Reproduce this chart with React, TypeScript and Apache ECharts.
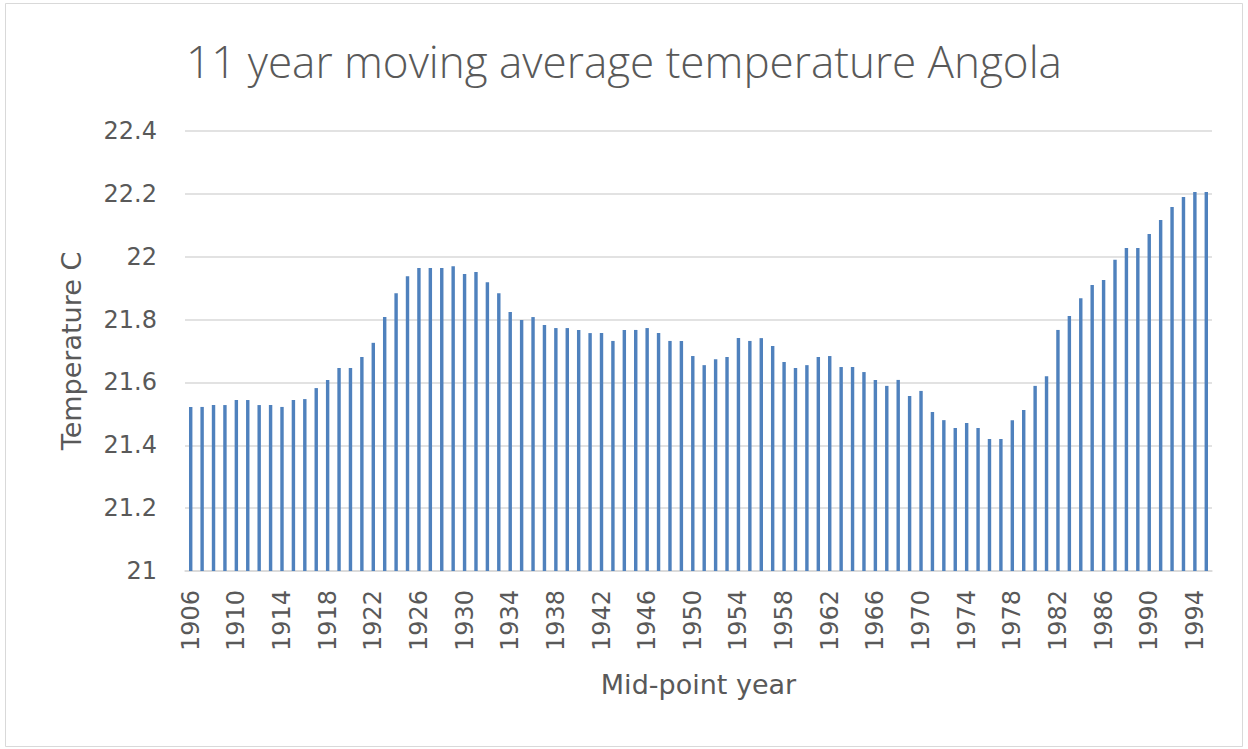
import React, { useEffect, useRef } from "react";
import * as echarts from "echarts";

const years: string[] = [
  "1906", "1907", "1908", "1909", "1910", "1911", "1912", "1913", "1914", "1915",
  "1916", "1917", "1918", "1919", "1920", "1921", "1922", "1923", "1924", "1925",
  "1926", "1927", "1928", "1929", "1930", "1931", "1932", "1933", "1934", "1935",
  "1936", "1937", "1938", "1939", "1940", "1941", "1942", "1943", "1944", "1945",
  "1946", "1947", "1948", "1949", "1950", "1951", "1952", "1953", "1954", "1955",
  "1956", "1957", "1958", "1959", "1960", "1961", "1962", "1963", "1964", "1965",
  "1966", "1967", "1968", "1969", "1970", "1971", "1972", "1973", "1974", "1975",
  "1976", "1977", "1978", "1979", "1980", "1981", "1982", "1983", "1984", "1985",
  "1986", "1987", "1988", "1989", "1990", "1991", "1992", "1993", "1994", "1995",
];

const temperatures: number[] = [
  21.522, 21.522, 21.528, 21.528, 21.544, 21.544, 21.528, 21.528, 21.522, 21.544,
  21.547, 21.582, 21.608, 21.646, 21.646, 21.681, 21.726, 21.808, 21.884, 21.938,
  21.964, 21.964, 21.964, 21.970, 21.945, 21.951, 21.919, 21.884, 21.824, 21.799,
  21.808, 21.783, 21.773, 21.773, 21.767, 21.757, 21.757, 21.732, 21.767, 21.767,
  21.773, 21.757, 21.732, 21.732, 21.684, 21.655, 21.674, 21.681, 21.741, 21.732,
  21.741, 21.716, 21.665, 21.646, 21.655, 21.681, 21.684, 21.649, 21.649, 21.633,
  21.608, 21.589, 21.608, 21.557, 21.573, 21.506, 21.480, 21.455, 21.471, 21.455,
  21.420, 21.420, 21.480, 21.512, 21.589, 21.620, 21.767, 21.811, 21.868, 21.910,
  21.926, 21.990, 22.028, 22.028, 22.072, 22.117, 22.158, 22.190, 22.206, 22.206,
];

const titleText = "11 year moving average temperature Angola";
const yAxisName = "Temperature C";
const xAxisName = "Mid-point year";

export default function App() {
  const ref = useRef<HTMLDivElement>(null);
  useEffect(() => {
    if (!ref.current) return;
    const chart = echarts.init(ref.current, undefined, { renderer: "svg" });
    const titleFont = "'Open Sans', Lato, sans-serif";
    const font = "'DejaVu Sans', sans-serif";
    chart.setOption({
      animation: false,
      backgroundColor: "#ffffff",
      title: {
        text: titleText,
        left: "center",
        top: 34,
        textStyle: { fontFamily: titleFont, fontSize: 44, fontWeight: 300, color: "#595959" },
      },
      graphic: [
        {
          type: "rect",
          shape: { x: 5.5, y: 3.5, width: 1237, height: 743 },
          style: { fill: "none", stroke: "#d9d9d9", lineWidth: 1 },
          silent: true,
        },
      ],
      grid: { left: 185, right: 36, top: 131, bottom: 178, containLabel: false },
      xAxis: {
        type: "category",
        data: years,
        name: xAxisName,
        nameLocation: "middle",
        nameGap: 100,
        nameTextStyle: { fontFamily: font, fontSize: 27, color: "#595959" },
        axisLine: { lineStyle: { color: "#d9d9d9", width: 1.5 } },
        axisTick: { show: false },
        axisLabel: {
          interval: 3,
          rotate: 90,
          fontFamily: font,
          fontSize: 24,
          color: "#595959",
          margin: 19,
        },
        splitLine: { show: false },
      },
      yAxis: {
        type: "value",
        min: 21,
        max: 22.4,
        interval: 0.2,
        name: yAxisName,
        nameLocation: "middle",
        nameGap: 100,
        nameTextStyle: { fontFamily: font, fontSize: 27, color: "#595959" },
        axisLine: { show: false },
        axisTick: { show: false },
        axisLabel: {
          fontFamily: font,
          fontSize: 24,
          color: "#595959",
          margin: 28,
          formatter: (v: number) => String(Math.round(v * 10) / 10),
        },
        splitLine: { lineStyle: { color: "#d9d9d9", width: 1.5 } },
      },
      series: [
        {
          type: "bar",
          data: temperatures,
          barWidth: "30%",
          itemStyle: { color: "#4f81bd" },
        },
      ],
    });
    return () => chart.dispose();
  }, []);
  return (
    <div
      ref={ref}
      style={{ position: "absolute", left: 0, top: 0, width: 1248, height: 749 }}
    />
  );
}
